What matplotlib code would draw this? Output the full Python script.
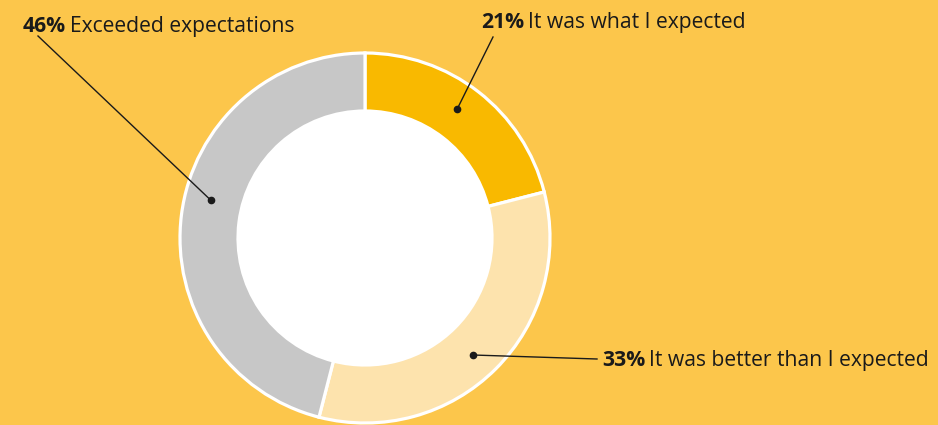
import matplotlib
matplotlib.use("Agg")
import matplotlib.pyplot as plt
import numpy as np

# ---- data ----
labels = ["It was what I expected", "It was better than I expected", "Exceeded expectations"]
values = [21, 33, 46]
colors = ["#F9B900", "#FDE3AD", "#C7C7C7"]

# ---- style / layout (pixels) ----
W, H = 938, 425
BG = "#FCC64B"
CX, CY = 365, 238
R_OUT, R_IN = 185, 127
label_pos = [(481, 28), (602, 366), (23, 32)]       # text baseline start
line_ends = [(493, 37), (597, 359), (38, 36)]
anchor_frac = [0.47, 0.52, 0.54]
TXT = "#1a1a1a"
FONT = "Open Sans"
FS = 15.2

fig = plt.figure(figsize=(W / 100, H / 100), dpi=100, facecolor=BG)
ax = fig.add_axes([0, 0, 1, 1])
ax.set_facecolor(BG)
ax.set_xlim(0, W)
ax.set_ylim(0, H)
ax.set_aspect("equal")
ax.axis("off")

wedges, _ = ax.pie(values, colors=colors, startangle=90, counterclock=False,
                   center=(CX, H - CY), radius=R_OUT,
                   wedgeprops=dict(width=R_OUT - R_IN, edgecolor="white", linewidth=2.3))
ax.add_patch(plt.Circle((CX, H - CY), R_IN, color="white", zorder=0.5))
ax.set_xlim(0, W)
ax.set_ylim(0, H)

fig.canvas.draw()
r = fig.canvas.get_renderer()
r_mid = (R_OUT + R_IN) / 2 + 3
for i, w in enumerate(wedges):
    t1, t2 = w.theta1, w.theta2
    ang = np.deg2rad(t2 - anchor_frac[i] * (t2 - t1))
    dx = CX + r_mid * np.cos(ang)
    dy = (H - CY) + r_mid * np.sin(ang)
    lx, ly = line_ends[i]
    ax.plot([dx, lx], [dy, H - ly], color=TXT, lw=1.0, zorder=5)
    ax.plot([dx], [dy], "o", color=TXT, ms=4.5, zorder=6)
    tx, ty = label_pos[i]
    b = ax.text(tx, H - ty, f"{values[i]}%", fontsize=FS, fontweight="bold",
                family=FONT, color=TXT, va="baseline", ha="left")
    bb = b.get_window_extent(renderer=r)
    ax.text(bb.x1 + 4, H - ty, labels[i], fontsize=FS, family=FONT,
            color=TXT, va="baseline", ha="left")

fig.savefig("out.png", dpi=100, facecolor=BG)
